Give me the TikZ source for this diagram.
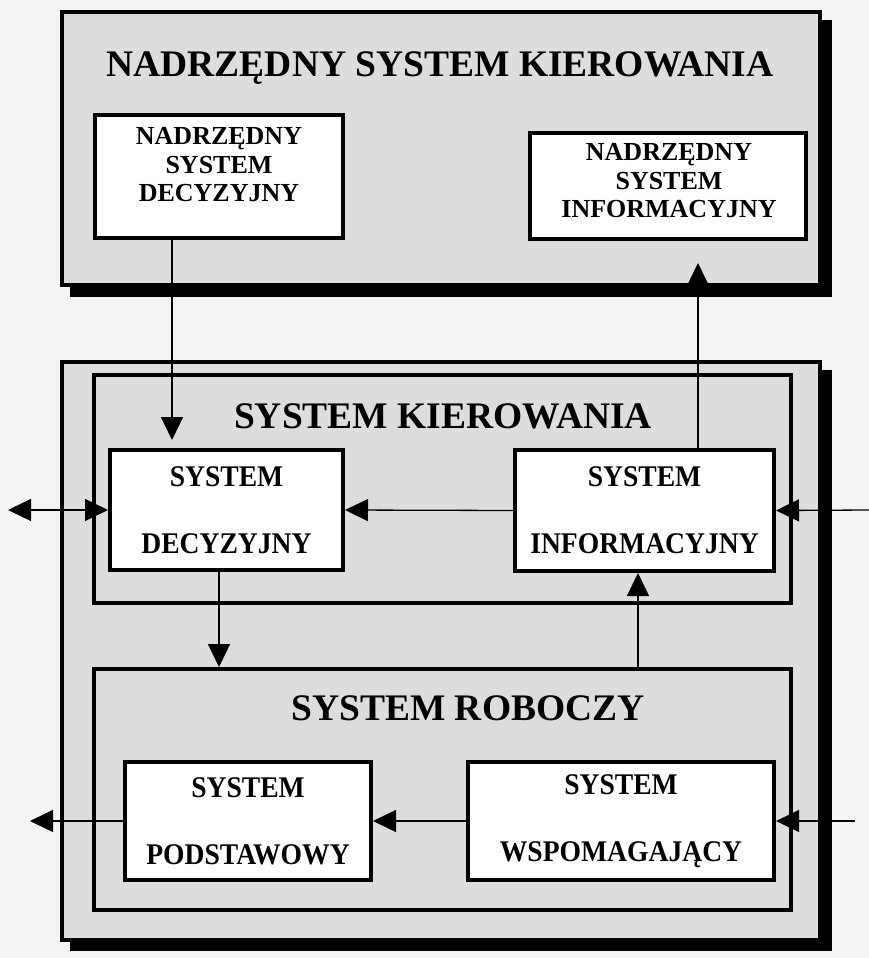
\documentclass[tikz,border=0pt]{standalone}
\usepackage{fontspec}
\setmainfont{Liberation Serif}
\newfontfamily\waska[FakeStretch=0.92]{Liberation Serif}
\usepackage{tikz}
\usetikzlibrary{arrows.meta, positioning, calc}
\definecolor{papier}{HTML}{F4F4F4}
\definecolor{tlo}{HTML}{DDDDDD}

\begin{document}
\begin{tikzpicture}[x=1pt, y=-1pt,
    panel/.style={draw, line width=3.5pt, fill=tlo},
    cien/.style={fill=black},
    rama/.style={draw, line width=4pt, fill=tlo, inner sep=0pt},
    blok/.style={draw, line width=4pt, fill=white, inner sep=0pt},
    tytul/.style={font=\fontsize{37.5}{40}\selectfont\bfseries},
    napis/.style={font=\fontsize{26}{28.5}\selectfont\bfseries, align=center},
    opis/.style={font=\waska\fontsize{30}{67}\selectfont\bfseries, align=center},
    grot/.tip={Triangle[length=23pt, width=22pt]},
    strzalka/.style={line width=1.3pt, -grot},
    dwie/.style={line width=1.3pt, grot-grot}]
    \useasboundingbox (0,0) rectangle (869,958);
    \fill[papier] (0,0) rectangle (869,958);

    % nadrzedny system kierowania
    \fill[cien] (70,20) rectangle (832,297);
    \draw[panel] (62,12) rectangle (820,285);
    \node[tytul] (nsk) at (440,68) {NADRZĘDNY SYSTEM KIEROWANIA};
    \node[blok, minimum width=248pt, minimum height=123pt] (nsd) at (219,176.5) {};
    \node[napis] (nsd txt) at (219,165) {NADRZĘDNY\\SYSTEM\\DECYZYJNY};
    \node[blok, minimum width=276pt, minimum height=106pt] (nsi) at (668,186) {};
    \node[napis] (nsi txt) at (669,181) {NADRZĘDNY\\SYSTEM\\INFORMACYJNY};

    % system kierowania + system roboczy
    \fill[cien] (70,370) rectangle (832,951);
    \draw[panel] (62,362) rectangle (820,940);
    \node[rama, minimum width=697pt, minimum height=228pt] (skr) at (442.5,489) {};
    \node[tytul] (sk) at (443,416) {SYSTEM KIEROWANIA};
    \node[blok, minimum width=233pt, minimum height=120pt, opis] (sd) at (226.5,510) {SYSTEM\\DECYZYJNY};
    \node[blok, minimum width=259pt, minimum height=121pt, opis] (si) at (644.5,510.5) {SYSTEM\\INFORMACYJNY};

    \node[rama, minimum width=697pt, minimum height=241pt] (srr) at (442.5,789.5) {};
    \node[tytul] (sr) at (468,708) {SYSTEM ROBOCZY};
    \node[blok, minimum width=246pt, minimum height=118pt, opis] (sp) at (248,821) {SYSTEM\\PODSTAWOWY};
    \node[blok, minimum width=306pt, minimum height=118pt, opis] (sw) at (621,821) {SYSTEM\\WSPOMAGAJĄCY};

    % polaczenia
    \coordinate (lewy) at (8,510);
    \coordinate (prawy) at (869,510);
    \coordinate (wyjscie) at (30,821);
    \coordinate (wejscie) at (855,821);
    \draw[strzalka, shorten >=8pt] ([xshift=79pt]nsd.south west) -- ([xshift=64pt]sd.north west);
    \draw[strzalka, shorten >=22pt] ([xshift=185pt]si.north west) -- ([xshift=170pt]nsi.south west);
    \draw[strzalka] ([xshift=111pt]sd.south west) -- ([xshift=127pt]srr.north west);
    \draw[strzalka] ([xshift=546pt]srr.north west) -- ([xshift=125pt]si.south west);
    \draw[dwie] (lewy) -- (sd.west);
    \draw[strzalka] (si.west) -- (sd.east);
    \draw[strzalka] (prawy) -- (si.east);
    \draw[strzalka] (sp.west) -- (wyjscie);
    \draw[strzalka] (sw.west) -- (sp.east);
    \draw[strzalka] (wejscie) -- (sw.east);
  \end{tikzpicture}
\end{document}
